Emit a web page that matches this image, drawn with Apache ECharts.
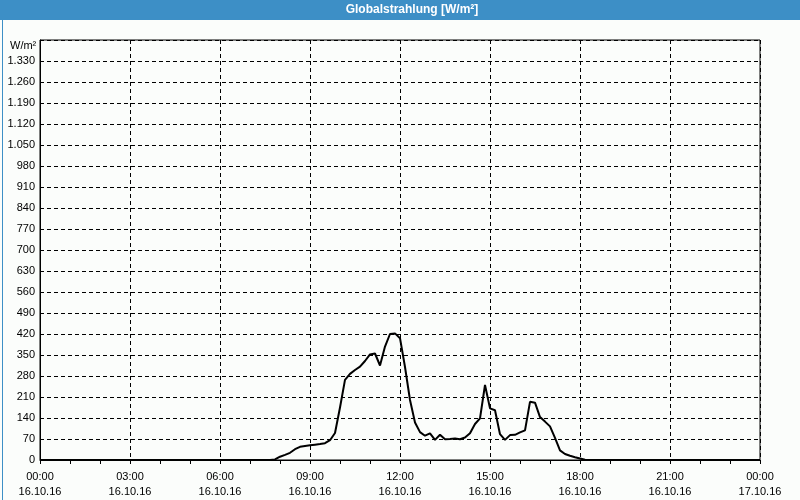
<!DOCTYPE html>
<html>
<head>
<meta charset="utf-8">
<script src="https://cdn.jsdelivr.net/npm/echarts@6/dist/echarts.min.js"></script>
<style>
html,body{margin:0;padding:0;background:#fbfdfb;}
#c{width:800px;height:500px;}
</style>
</head>
<body>
<div id="c"></div>
<script>
// Minutes after 00:00 on 16.10.16
var times = [0, 460, 470, 480, 490, 500, 510, 520, 530, 540, 550, 560, 570, 580, 590,
  600, 610, 620, 630, 640, 650, 660, 670, 680, 690, 700, 710, 720, 730, 740,
  750, 760, 770, 780, 790, 800, 810, 820, 830, 840, 850, 860, 870, 880, 890,
  900, 910, 920, 930, 940, 950, 960, 970, 980, 990, 1000, 1010, 1020, 1030, 1040,
  1050, 1060, 1070, 1080, 1090, 1100, 1440];
var values = [0, 0, 2, 11, 17, 24, 36, 44, 47, 49, 51, 53, 56, 66, 90,
  175, 267, 287, 300, 311, 330, 352, 355, 315, 378, 420, 422, 406, 310, 200,
  125, 93, 81, 89, 67, 84, 69, 70, 72, 69, 75, 89, 120, 139, 250,
  172, 166, 86, 67, 83, 84, 92, 99, 194, 191, 143, 128, 112, 74, 32,
  20, 14, 9, 5, 1, 0, 0];
var xTickLabels = ['00:00\n16.10.16', '03:00\n16.10.16', '06:00\n16.10.16', '09:00\n16.10.16',
  '12:00\n16.10.16', '15:00\n16.10.16', '18:00\n16.10.16', '21:00\n16.10.16', '00:00\n17.10.16'];
var titleText = 'Globalstrahlung [W/m²]';
var unitText = 'W/m²';

var data = times.map(function (t, i) { return [t, values[i]]; });
var font = '"Liberation Sans", Arial, sans-serif';

var chart = echarts.init(document.getElementById('c'), null, {renderer: 'canvas'});
chart.setOption({
  backgroundColor: '#fbfdfb',
  animation: false,
  grid: {left: 40, right: 40, top: 40, bottom: 40, show: true, borderColor: '#000', borderWidth: 1, backgroundColor: 'transparent'},
  xAxis: {
    type: 'value', min: 0, max: 1440, interval: 180,
    axisLine: {show: true, lineStyle: {color: '#000', width: 1}},
    axisTick: {show: true, inside: false, length: 4, lineStyle: {color: '#000'}},
    minorTick: {show: true, splitNumber: 3, length: 4, lineStyle: {color: '#000'}},
    splitLine: {show: true, lineStyle: {color: '#000', type: [4, 3], width: 1}},
    axisLabel: {
      margin: 9, color: '#000', fontFamily: font, fontSize: 11, lineHeight: 15,
      formatter: function (v) { return xTickLabels[Math.round(v / 180)] || ''; }
    }
  },
  yAxis: {
    type: 'value', min: 0, max: 1400, interval: 70,
    axisLine: {show: true, lineStyle: {color: '#000', width: 1}},
    axisTick: {show: false},
    splitLine: {show: true, lineStyle: {color: '#000', type: [4, 3], width: 1}},
    axisLabel: {
      margin: 5, color: '#000', fontFamily: font, fontSize: 11,
      formatter: function (v) {
        if (v >= 1400) return '';
        return String(v).replace(/\B(?=(\d{3})+(?!\d))/g, '.');
      }
    }
  },
  series: [{
    type: 'line', data: data, showSymbol: false, symbol: 'none',
    lineStyle: {color: '#000', width: 2}, z: 5
  }],
  graphic: [
    {type: 'rect', left: 0, top: 0, z: 10, shape: {width: 800, height: 20}, style: {fill: '#3d8fc6'}},
    {type: 'rect', left: 0, top: 0, z: 10, silent: true, shape: {x: 0.5, y: 0.5, width: 799, height: 499}, style: {fill: 'none', stroke: '#3d8fc6', lineWidth: 1}},
    {type: 'text', z: 11, x: 412, y: 10, style: {text: titleText, fill: '#fff', font: 'bold 12px ' + font, textAlign: 'center', textVerticalAlign: 'middle'}},
    {type: 'text', z: 11, x: 10, y: 46, style: {text: unitText, fill: '#000', font: '11px ' + font, textAlign: 'left', textVerticalAlign: 'middle'}}
  ]
});
</script>
</body>
</html>
